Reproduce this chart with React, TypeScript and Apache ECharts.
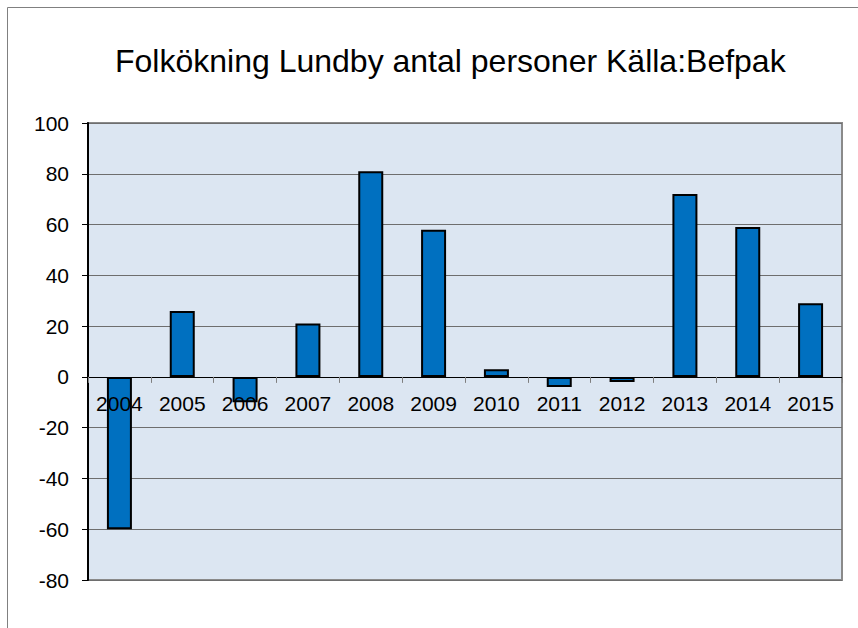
import React, { useEffect, useRef } from "react";
import * as echarts from "echarts";

const TITLE = "Folkökning Lundby antal personer Källa:Befpak";
const categories = ["2004", "2005", "2006", "2007", "2008", "2009", "2010", "2011", "2012", "2013", "2014", "2015"];
const values = [-60, 26, -10, 21, 81, 58, 3, -4, -2, 72, 59, 29];
const yMin = -80;
const yMax = 100;
const yStep = 20;

export default function App() {
  const ref = useRef<HTMLDivElement>(null);
  useEffect(() => {
    if (!ref.current) return;
    const chart = echarts.init(ref.current, null, { renderer: "svg" });
    const font = "Liberation Sans, Arial, sans-serif";
    const gridTop = 123;
    const gridBottom = 48;
    const plotH = 628 - gridTop - gridBottom;
    const zeroOffset = -plotH * (0 - yMin) / (yMax - yMin);
    chart.setOption({
      animation: false,
      backgroundColor: "#ffffff",
      title: {
        text: TITLE,
        left: 110,
        top: 40,
        textStyle: { fontFamily: font, fontSize: 32, fontWeight: "normal", color: "#000" },
      },
      graphic: [
        {
          type: "rect",
          shape: { x: 7.5, y: 7.5, width: 900, height: 700 },
          style: { fill: "none", stroke: "#808080", lineWidth: 1 },
          silent: true,
          z: 100,
        },
      ],
      grid: {
        left: 88,
        top: gridTop,
        right: 16,
        bottom: gridBottom,
        show: true,
        backgroundColor: "#dce6f2",
        borderColor: "#8a8a8a",
        borderWidth: 2,
      },
      xAxis: {
        type: "category",
        data: categories,
        position: "bottom",
        offset: zeroOffset,
        axisLine: { show: true, onZero: false, lineStyle: { color: "#000", width: 1 } },
        axisTick: { show: true, inside: false, length: 6, alignWithLabel: false, lineStyle: { color: "#7f7f7f" } },
        axisLabel: { fontFamily: font, fontSize: 21, color: "#000", margin: 16 },
        z: 10,
      },
      yAxis: {
        type: "value",
        min: yMin,
        max: yMax,
        interval: yStep,
        axisLine: { show: true, lineStyle: { color: "#000", width: 2 } },
        axisTick: { show: true, inside: false, length: 6, lineStyle: { color: "#000" } },
        axisLabel: { fontFamily: font, fontSize: 21, color: "#000", margin: 19 },
        splitLine: { show: true, lineStyle: { color: "#6e6e6e", width: 1 } },
      },
      series: [
        {
          type: "bar",
          data: values,
          barWidth: 25,
          itemStyle: { color: "#0070c0", borderColor: "#000", borderWidth: 2 },
        },
      ],
    });
    return () => chart.dispose();
  }, []);
  return (
    <div
      ref={ref}
      style={{ position: "fixed", left: 0, top: 0, width: 858, height: 628 }}
    />
  );
}
